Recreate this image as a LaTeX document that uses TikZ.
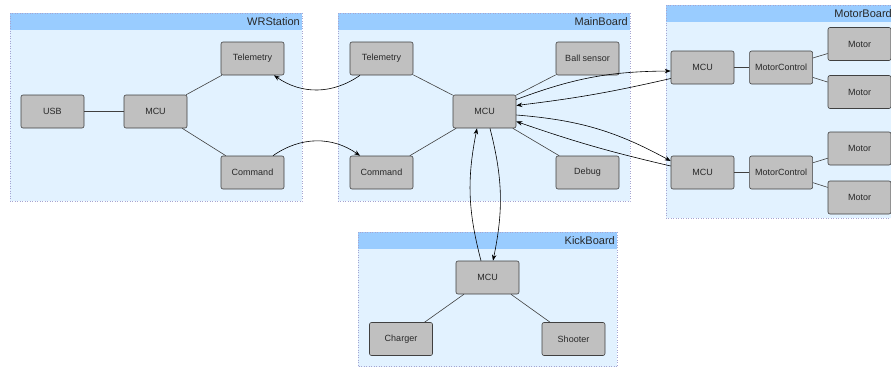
\documentclass[tikz,border=0pt]{standalone}
\usepackage{fontspec}
\setmainfont{Liberation Sans}
\usetikzlibrary{positioning, arrows.meta, calc}

\definecolor{groupbody}{RGB}{226,242,255}
\definecolor{grouphead}{RGB}{153,204,255}
\definecolor{groupline}{RGB}{165,165,210}
\definecolor{boxfill}{RGB}{192,192,192}
\definecolor{boxline}{RGB}{64,64,64}
\definecolor{boxtext}{RGB}{40,40,40}

\begin{document}
\begin{tikzpicture}[ x = 1pt, y = -1pt
                     , node distance = 40pt and 15pt
                     , >={Stealth[width=4.5pt, length=6pt]}
                     , block/.style = { rectangle
                                      , rounded corners = 2pt
                                      , draw = boxline
                                      , fill = boxfill
                                      , text = boxtext
                                      , line width = 0.6pt
                                      , minimum width = 63pt
                                      , minimum height = 33pt
                                      , inner sep = 0pt
                                      , font = \fontsize{9}{10}\selectfont }
                     , title/.style = { anchor = east, inner sep = 0pt, text = boxtext
                                      , font = \fontsize{11}{12}\selectfont }
                     , board/.style = { draw = groupline, dotted, line width = 0.5pt }
                     , link/.style = { draw = black!75, line width = 0.6pt }
                     , flow/.style = { ->, draw = black, line width = 0.6pt }
                     ]

  \clip (0,0) rectangle (891,367);

  % boards
  \fill[groupbody] (10,13) rectangle (302,201);
  \fill[grouphead] (10,13) rectangle (302,30);
  \draw[board] (10,13) rectangle (302,201);
  \node[title] (wrTitle) at (300,21.5) {WRStation};

  \fill[groupbody] (338,13) rectangle (630,201);
  \fill[grouphead] (338,13) rectangle (630,30);
  \draw[board] (338,13) rectangle (630,201);
  \node[title] (mainTitle) at (628,21.5) {MainBoard};

  \fill[groupbody] (666,5) rectangle (894,218);
  \fill[grouphead] (666,5) rectangle (894,22);
  \draw[board] (666,5) rectangle (894,218);
  \node[title] (motorTitle) at (892,13.5) {MotorBoard};

  \fill[groupbody] (358,232) rectangle (617,366.5);
  \fill[grouphead] (358,232) rectangle (617,249);
  \draw[board] (358,232) rectangle (617,366.5);
  \node[title] (kickTitle) at (615,240.5) {KickBoard};

  % WRStation
  \node[block] (usb) at (52.5,111.5) {USB};
  \node[block] (wrMcu) at (155.5,111.5) {MCU};
  \node[block] (wrTel) at (252.5,58.5) {Telemetry};
  \node[block] (wrCmd) at (252.5,172.5) {Command};

  % MainBoard
  \node[block] (mainTel) at (381.5,58.5) {Telemetry};
  \node[block] (mainMcu) at (484.5,111.5) {MCU};
  \node[block] (ball) at (587.5,58.5) {Ball sensor};
  \node[block] (mainCmd) at (381.5,172.5) {Command};
  \node[block] (debug) at (587.5,172.5) {Debug};

  % MotorBoard
  \node[block] (mcuA) at (702.5,67.5) {MCU};
  \node[block] (ctrlA) [right = of mcuA] {MotorControl};
  \node[block] (motorA1) at (859.5,44) {Motor};
  \node[block] (motorA2) at (859.5,92) {Motor};
  \node[block] (mcuB) at (702.5,172.5) {MCU};
  \node[block] (ctrlB) [right = of mcuB] {MotorControl};
  \node[block] (motorB1) at (859.5,148.5) {Motor};
  \node[block] (motorB2) at (859.5,197.5) {Motor};

  % KickBoard
  \node[block] (kickMcu) at (487.5,277.5) {MCU};
  \node[block] (charger) at (401,339) {Charger};
  \node[block] (shooter) at (573.5,339) {Shooter};

  % links inside the boards
  \draw[link] (wrMcu) -- (usb);
  \draw[link] (wrMcu) -- (wrTel);
  \draw[link] (wrMcu) -- (wrCmd);
  \draw[link] (mainMcu) -- (mainTel);
  \draw[link] (mainMcu) -- (ball);
  \draw[link] (mainMcu) -- (mainCmd);
  \draw[link] (mainMcu) -- (debug);
  \draw[link] (mcuA) -- (ctrlA);
  \draw[link] (ctrlA) -- (motorA1);
  \draw[link] (ctrlA) -- (motorA2);
  \draw[link] (mcuB) -- (ctrlB);
  \draw[link] (ctrlB) -- (motorB1);
  \draw[link] (ctrlB) -- (motorB2);
  \draw[link] (kickMcu) -- (charger);
  \draw[link] (kickMcu) -- (shooter);

  % links between the boards
  \draw[flow] ([xshift=-21.5pt]mainTel.south) to[bend left=35] ([xshift=21.5pt]wrTel.south);
  \draw[flow] ([xshift=20.5pt]wrCmd.north) to[bend left=35] ([xshift=-21.5pt]mainCmd.north);

  \draw[flow] ([yshift=12pt]mainMcu.east) to[bend left=10] ([yshift=-3.5pt]mcuA.west);
  \draw[flow] ([yshift=-11pt]mcuA.west) to[bend left=3] ([yshift=6pt]mainMcu.east);
  \draw[flow] ([yshift=-3.5pt]mainMcu.east) to[bend left=12] ([yshift=11.5pt]mcuB.west);
  \draw[flow] ([yshift=6.5pt]mcuB.west) to[bend left=3] ([yshift=-10pt]mainMcu.east);

  \draw[flow] ([xshift=-6.5pt]kickMcu.north) to[bend left=13] ([xshift=-7.5pt]mainMcu.south);
  \draw[flow] ([xshift=5.5pt]mainMcu.south) to[bend left=13] ([xshift=5.5pt]kickMcu.north);

\end{tikzpicture}
\end{document}
